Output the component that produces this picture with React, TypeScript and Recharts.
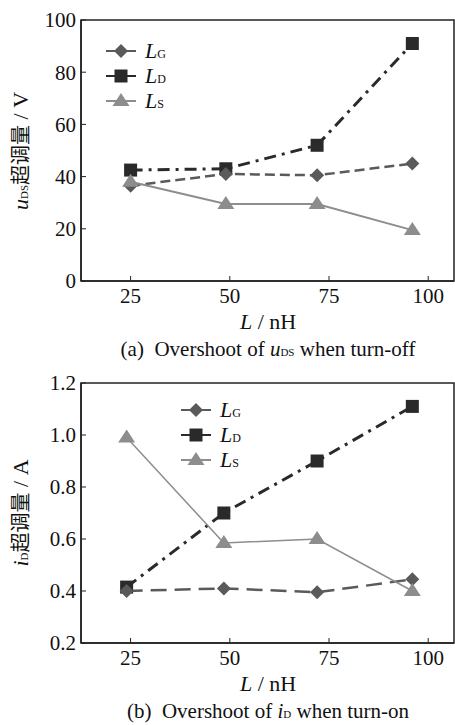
import React from 'react';
import { LineChart, Line, XAxis, YAxis, ReferenceArea } from 'recharts';

// (a) overshoot of uDS when turn-off
const offX = [25, 49, 72, 96];
const offLG = [36.5, 41, 40.5, 45];
const offLD = [42.5, 43, 52, 91];
const offLS = [38, 29.5, 29.5, 19.5];
const offTicksY = [0, 20, 40, 60, 80, 100];

// (b) overshoot of iD when turn-on
const onX = [24, 48.5, 72, 96];
const onLG = [0.4, 0.41, 0.395, 0.445];
const onLD = [0.415, 0.7, 0.9, 1.11];
const onLS = [0.99, 0.585, 0.6, 0.4];
const onTicksY = [0.2, 0.4, 0.6, 0.8, 1.0, 1.2];

const ticksX = [25, 50, 75, 100];
const serif = '"Liberation Serif", "DejaVu Serif", serif';
const cjk = '"Noto Sans CJK SC", sans-serif';

const cG = '#5a5a5a';
const cD = '#2a2a2a';
const cS = '#8d8d8d';

const Diamond = ({ cx, cy }: any) => (
  <polygon points={`${cx},${cy - 7} ${cx + 7},${cy} ${cx},${cy + 7} ${cx - 7},${cy}`} fill={cG} />
);
const Square = ({ cx, cy }: any) => <rect x={cx - 6.5} y={cy - 6.5} width={13} height={13} fill={cD} />;
const Triangle = ({ cx, cy }: any) => (
  <polygon points={`${cx},${cy - 8} ${cx + 8.5},${cy + 5} ${cx - 8.5},${cy + 5}`} fill={cS} />
);

const LegendBox = ({ left, top }: { left: number; top: number }) => {
  const rows = [
    { sub: 'G', color: cG, Mark: Diamond },
    { sub: 'D', color: cD, Mark: Square },
    { sub: 'S', color: cS, Mark: Triangle },
  ];
  return (
    <div style={{ position: 'absolute', left, top, fontFamily: serif }}>
      {rows.map((r, i) => (
        <div key={i} style={{ display: 'flex', alignItems: 'center', height: 25 }}>
          <svg width={32} height={20}>
            <line x1={0} y1={10} x2={30} y2={10} stroke={r.color} strokeWidth={2} />
            <r.Mark cx={15} cy={10} />
          </svg>
          <span style={{ marginLeft: 7, fontSize: 22, fontStyle: 'italic', color: '#111' }}>
            L<span style={{ fontStyle: 'normal', fontSize: 12 }}>{r.sub}</span>
          </span>
        </div>
      ))}
    </div>
  );
};

const tickStyle = { fontSize: 21, fill: '#111', fontFamily: serif };

const Panel = ({ data, yDomain, yTicks, fmt, thinS, bottom }: any) => (
  <LineChart width={455} height={362} data={data} margin={{ top: 20, right: 1, bottom, left: 0 }}>
    <XAxis
      dataKey="x"
      type="number"
      domain={[12.5, 106.5]}
      ticks={ticksX}
      allowDataOverflow
      tickSize={-5}
      tickMargin={12}
      tick={tickStyle}
      stroke="#222"
      axisLine={{ strokeWidth: 1.5 }}
    />
    <YAxis
      type="number"
      domain={yDomain}
      ticks={yTicks}
      width={81}
      tickSize={-5}
      tickMargin={10}
      tick={tickStyle}
      tickFormatter={fmt}
      stroke="#222"
      axisLine={{ strokeWidth: 1.5 }}
    />
    <ReferenceArea x1={12.5} x2={106.5} y1={yDomain[0]} y2={yDomain[1]} fill="none" stroke="#222" strokeWidth={1.5} />
    <Line dataKey="ld" stroke={cD} strokeWidth={3} strokeDasharray="12 6 3 6" dot={<Square />} isAnimationActive={false} />
    <Line dataKey="lg" stroke={cG} strokeWidth={2.5} strokeDasharray={thinS ? '16 8' : '10 5'} dot={<Diamond />} isAnimationActive={false} />
    <Line dataKey="ls" stroke={cS} strokeWidth={thinS ? 1.5 : 2} dot={<Triangle />} isAnimationActive={false} />
  </LineChart>
);

const offData = offX.map((x, i) => ({ x, lg: offLG[i], ld: offLD[i], ls: offLS[i] }));
const onData = onX.map((x, i) => ({ x, lg: onLG[i], ld: onLD[i], ls: onLS[i] }));

const centerText = (top: number, content: React.ReactNode, size = 21) => (
  <div
    style={{
      position: 'absolute',
      left: 268,
      top,
      transform: 'translate(-50%, -50%)',
      whiteSpace: 'nowrap',
      fontFamily: serif,
      fontSize: size,
      color: '#111',
    }}
  >
    {content}
  </div>
);

const yLabel = (top: number, v: string, sub: string, unit: string) => (
  <div
    style={{
      position: 'absolute',
      left: 19,
      top,
      transform: 'translate(-50%, -50%) rotate(-90deg)',
      whiteSpace: 'nowrap',
      fontSize: 22,
      color: '#111',
      fontFamily: serif,
    }}
  >
    <i>{v}</i>
    <span style={{ fontSize: 11 }}>{sub}</span>
    <span style={{ fontFamily: cjk, fontSize: 20 }}>超调量</span> / {unit}
  </div>
);

export default function App() {
  return (
    <div style={{ position: 'absolute', left: 0, top: 0, width: 455, height: 725, background: '#fff' }}>
      <div style={{ position: 'absolute', left: 0, top: 0 }}>
        <Panel data={offData} yDomain={[0, 100]} yTicks={offTicksY} fmt={(v: number) => String(v)} bottom={51} />
      </div>
      <div style={{ position: 'absolute', left: 0, top: 363 }}>
        <Panel data={onData} yDomain={[0.2, 1.2]} yTicks={onTicksY} fmt={(v: number) => v.toFixed(1)} thinS bottom={52} />
      </div>
      <LegendBox left={106} top={38} />
      <LegendBox left={181} top={397} />
      {yLabel(151, 'u', 'DS', 'V')}
      {yLabel(513, 'i', 'D', 'A')}
      {centerText(322, <span><i>L</i> / nH</span>, 22)}
      {centerText(349, <span>(a)&nbsp; Overshoot of <i>u</i><span style={{ fontSize: 11 }}>DS</span> when turn-off</span>)}
      {centerText(684, <span><i>L</i> / nH</span>, 22)}
      {centerText(711, <span>(b)&nbsp; Overshoot of <i>i</i><span style={{ fontSize: 11 }}>D</span> when turn-on</span>)}
    </div>
  );
}
